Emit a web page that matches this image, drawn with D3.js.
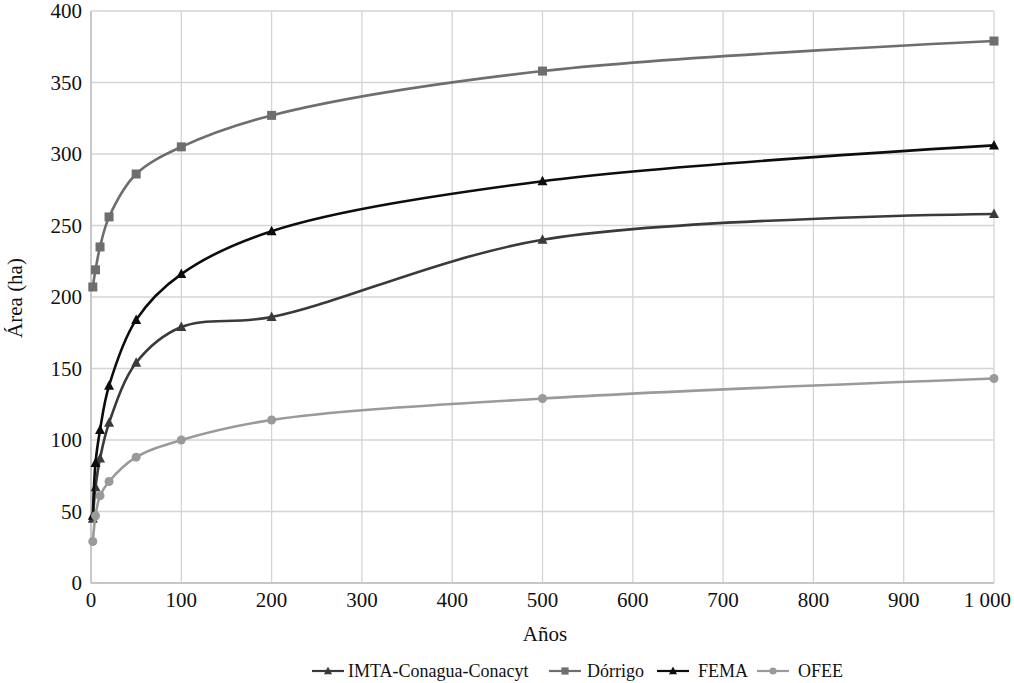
<!DOCTYPE html>
<html><head><meta charset="utf-8">
<script src="https://cdn.jsdelivr.net/npm/d3@7"></script>
<style>body{margin:0;background:#fff;} svg{display:block;} text{font-family:"Liberation Serif","Times New Roman",serif;}</style>
</head><body>
<svg id="c" width="1014" height="683"></svg>
<script>
const years = [2, 5, 10, 20, 50, 100, 200, 500, 1000];
const imta = [45, 67, 87, 112, 154, 179, 186, 240, 258];
const dorrigo = [207, 219, 235, 256, 286, 305, 327, 358, 379];
const fema = [47, 84, 107, 138, 184, 216, 246, 281, 306];
const ofee = [29, 47, 61, 71, 88, 100, 114, 129, 143];
const xTicks = [0,100,200,300,400,500,600,700,800,900,1000];
const yTicks = [0,50,100,150,200,250,300,350,400];
const seriesNames = ["IMTA-Conagua-Conacyt", "Dórrigo", "FEMA", "OFEE"];

const series = [
  {name: seriesNames[0], vals: imta, color: "#3a3a3a", marker: "tri"},
  {name: seriesNames[1], vals: dorrigo, color: "#6e6e6e", marker: "sq"},
  {name: seriesNames[2], vals: fema, color: "#0d0d0d", marker: "tri"},
  {name: seriesNames[3], vals: ofee, color: "#9a9a9a", marker: "circ"}
];

const svg = d3.select("#c");
const L = 91, R = 994, T = 11, B = 583;
const x = d3.scaleLinear().domain([0,1000]).range([L,R]);
const y = d3.scaleLinear().domain([0,400]).range([B,T]);

// grid
const g = svg.append("g");
g.selectAll(".gx").data(xTicks).enter().append("line")
  .attr("x1", d=>x(d)).attr("x2", d=>x(d)).attr("y1", T).attr("y2", B)
  .attr("stroke", "#d4d4d4").attr("stroke-width", 1.3);
g.selectAll(".gy").data(yTicks).enter().append("line")
  .attr("x1", L).attr("x2", R).attr("y1", d=>y(d)).attr("y2", d=>y(d))
  .attr("stroke", "#d4d4d4").attr("stroke-width", 1.3);
svg.append("line").attr("x1",L).attr("x2",R).attr("y1",B).attr("y2",B).attr("stroke","#bfbfbf").attr("stroke-width",1.5);
svg.append("line").attr("x1",L).attr("x2",L).attr("y1",T).attr("y2",B).attr("stroke","#bfbfbf").attr("stroke-width",1.5);

// tick labels
svg.selectAll(".xt").data(xTicks).enter().append("text")
  .attr("x", d=> d===1000 ? 1011 : x(d)).attr("y", B+24)
  .attr("text-anchor", d=> d===1000 ? "end" : "middle")
  .attr("font-size", 21).attr("fill","#111")
  .text(d => d===1000 ? "1 000" : String(d));
svg.selectAll(".yt").data(yTicks).enter().append("text")
  .attr("x", L-9).attr("y", d=>y(d)+7).attr("text-anchor","end")
  .attr("font-size", 21).attr("fill","#111")
  .text(d=>String(d));

// axis titles
svg.append("text").attr("x", 545).attr("y", 641).attr("text-anchor","middle")
  .attr("font-size", 21).attr("fill","#111").text("Años");
svg.append("text").attr("transform","translate(22,298) rotate(-90)").attr("text-anchor","middle")
  .attr("font-size", 21).attr("fill","#111").text("Área (ha)");

const line = d3.line().x(d=>x(d[0])).y(d=>y(d[1])).curve(d3.curveCatmullRom.alpha(0.5));

function drawMarker(sel, type, cx, cy, color, s) {
  s = s || 1;
  if (type === "sq") {
    sel.append("rect").attr("x", cx-4.5*s).attr("y", cy-4.5*s).attr("width", 9*s).attr("height", 9*s).attr("fill", color);
  } else if (type === "tri") {
    sel.append("path").attr("d", `M${cx},${cy-5.5*s}L${cx+5*s},${cy+4*s}L${cx-5*s},${cy+4*s}Z`).attr("fill", color);
  } else {
    sel.append("circle").attr("cx", cx).attr("cy", cy).attr("r", 4.5*s).attr("fill", color);
  }
}

series.forEach(s => {
  const pts = years.map((yr,i)=>[yr, s.vals[i]]);
  svg.append("path").attr("d", line(pts)).attr("fill","none")
    .attr("stroke", s.color).attr("stroke-width", 2.6);
  const mg = svg.append("g");
  pts.forEach(p => drawMarker(mg, s.marker, x(p[0]), y(p[1]), s.color));
});

// legend
const legX = [312, 549, 657, 757];
const legTx = [348, 587, 698, 798];
const legY = 671;
series.forEach((s, i) => {
  const lg = svg.append("g");
  lg.append("line").attr("x1", legX[i]).attr("x2", legX[i]+32).attr("y1", legY).attr("y2", legY)
    .attr("stroke", s.color).attr("stroke-width", 2.2);
  drawMarker(lg, s.marker, legX[i]+16, legY, s.color, 0.8);
  lg.append("text").attr("x", legTx[i]).attr("y", legY+6)
    .attr("font-size", 18).attr("fill","#111").text(s.name);
});
</script>
</body></html>
